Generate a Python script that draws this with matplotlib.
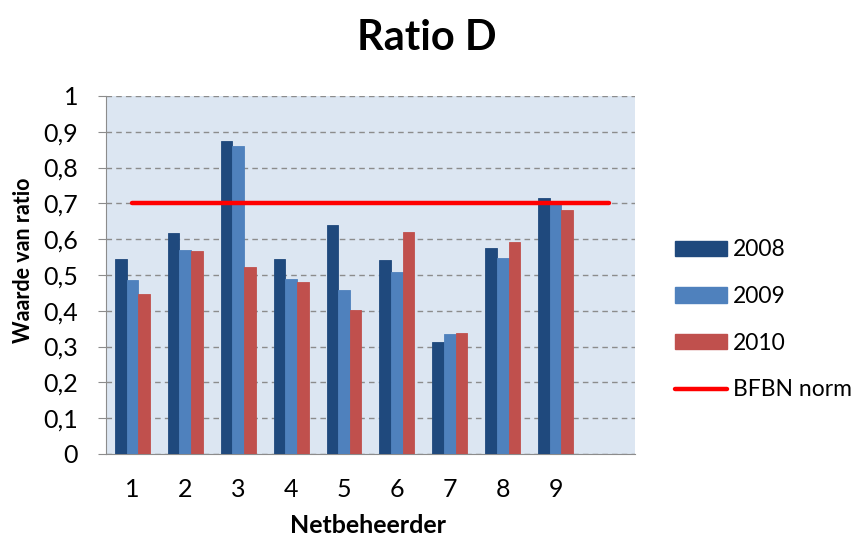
import matplotlib

matplotlib.use("Agg")
import matplotlib.pyplot as plt
import numpy as np
from matplotlib.lines import Line2D
from matplotlib.patches import Patch

plt.rcParams["font.family"] = ["Lato", "DejaVu Sans"]

# -- data ----------------------------------------------------------------
categories = ["1", "2", "3", "4", "5", "6", "7", "8", "9", ""]
years = ["2008", "2009", "2010"]
ratio_2008 = [0.545, 0.616, 0.873, 0.545, 0.640, 0.542, 0.313, 0.574, 0.715]
ratio_2009 = [0.487, 0.571, 0.859, 0.490, 0.457, 0.508, 0.334, 0.546, 0.700]
ratio_2010 = [0.448, 0.567, 0.521, 0.480, 0.401, 0.619, 0.337, 0.591, 0.682]
norm_value = 0.7
norm_label = "BFBN norm"

colors = ["#1F497D", "#4F81BD", "#C0504D"]

# -- figure ----------------------------------------------------------------
fig = plt.figure(figsize=(8.54, 5.36), dpi=100)
ax = fig.add_axes([0.124, 0.153, 0.6196, 0.668])
ax.set_facecolor("#DCE6F2")

x = np.arange(len(categories))
width = 0.22
series = [ratio_2008, ratio_2009, ratio_2010]
for i, (vals, c) in enumerate(zip(series, colors)):
    pos = x[: len(vals)] + (i - 1) * width
    ax.bar(pos, vals, width=width, color=c, edgecolor=c, linewidth=0.6, zorder=3)

ax.plot([x[0], x[-1]], [norm_value, norm_value], color="#FF0000",
        lw=3.2, solid_capstyle="round", zorder=4)

ax.set_xlim(-0.5, len(categories) - 0.5)
ax.set_ylim(0, 1)
ax.set_yticks(np.arange(0, 1.01, 0.1))
ax.set_yticklabels(["0"] + [f"0,{k}" for k in range(1, 10)] + ["1"])
ax.set_xticks(x)
ax.set_xticklabels(categories)
ax.yaxis.grid(True, ls=(0, (4, 3)), color="#8C8C8C", lw=1.0, zorder=1)
ax.tick_params(axis="y", length=6, color="#8C8C8C", labelsize=18, pad=14)
ax.tick_params(axis="x", length=0, labelsize=18, pad=17)

for side in ("top", "right"):
    ax.spines[side].set_visible(False)
for side in ("left", "bottom"):
    ax.spines[side].set_color("#8C8C8C")

ax.set_ylabel("Waarde van ratio", fontsize=15.5, fontweight="bold")
ax.yaxis.set_label_coords(-0.135, 0.54)
ax.set_xlabel("Netbeheerder", fontsize=18, fontweight="bold")
ax.xaxis.set_label_coords(0.495, -0.168)
fig.suptitle("Ratio D", fontsize=30, fontweight="bold", x=0.5, y=0.965)

handles = [Patch(facecolor=c, edgecolor=c) for c in colors]
handles.append(Line2D([0], [0], color="#FF0000", lw=3.2, solid_capstyle="round"))
fig.legend(handles, years + [norm_label], loc="center left",
           bbox_to_anchor=(0.766, 0.403), frameon=False, fontsize=16.5,
           handlelength=2.3, handleheight=0.65, labelspacing=1.12,
           handletextpad=0.25)

fig.savefig("out.png", dpi=100)
